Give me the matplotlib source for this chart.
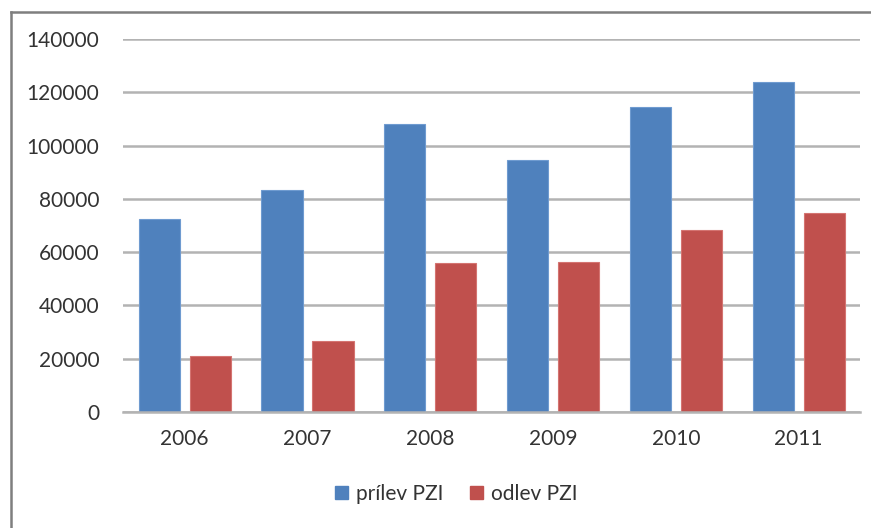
import matplotlib.pyplot as plt
from matplotlib.lines import Line2D
from matplotlib.patches import Patch
import numpy as np

years = ['2006', '2007', '2008', '2009', '2010', '2011']
prilev = [72500, 83500, 108000, 94700, 114500, 123800]
odlev = [21000, 26500, 55800, 56300, 68400, 74800]

blue = '#4f81bd'
red = '#c0504d'

plt.rcParams['font.family'] = ['Lato', 'DejaVu Sans']

fig = plt.figure(figsize=(8.71, 5.28), dpi=100)
ax = fig.add_axes([0.1412, 0.2197, 0.8462, 0.7064])

x = np.arange(len(years))
w = 0.335
ax.bar(x - 0.205, prilev, w, color=blue, edgecolor='#6f9bd0', linewidth=0.8, zorder=3)
ax.bar(x + 0.21, odlev, w, color=red, edgecolor='#d47471', linewidth=0.8, zorder=3)

ax.set_xlim(-0.5, len(years) - 0.5)
ax.set_ylim(0, 140000)
ax.set_yticks(np.arange(0, 140001, 20000))
ax.set_xticks(x, years)
ax.yaxis.grid(True, color='#b3b3b3', linewidth=1.8, zorder=0)
ax.set_axisbelow(True)
for s in ['top', 'right', 'left']:
    ax.spines[s].set_visible(False)
ax.spines['bottom'].set_color('#b3b3b3')
ax.spines['bottom'].set_linewidth(1.8)
ax.spines['bottom'].set_zorder(4)
ax.tick_params(axis='both', length=0, labelsize=15, labelcolor='#333333')
ax.tick_params(axis='y', pad=17)
ax.tick_params(axis='x', pad=12)

# chart frame (top and left edges of the embedded chart)
fig.add_artist(Line2D([11 / 871, 11 / 871], [0, 1 - 12 / 528], transform=fig.transFigure,
                      color='#7f7f7f', linewidth=1.8))
fig.add_artist(Line2D([11 / 871, 1], [1 - 12 / 528, 1 - 12 / 528], transform=fig.transFigure,
                      color='#7f7f7f', linewidth=1.8))

handles = [Patch(facecolor=blue, edgecolor=blue), Patch(facecolor=red, edgecolor=red)]
fig.legend(handles, ['prílev PZI', 'odlev PZI'], loc='center', bbox_to_anchor=(0.524, 1 - 494 / 528),
           ncol=2, frameon=False, fontsize=15, handlelength=0.6, handleheight=0.6,
           handletextpad=0.4, columnspacing=1.3, labelcolor='#333333')

fig.savefig('out.png', dpi=100)
